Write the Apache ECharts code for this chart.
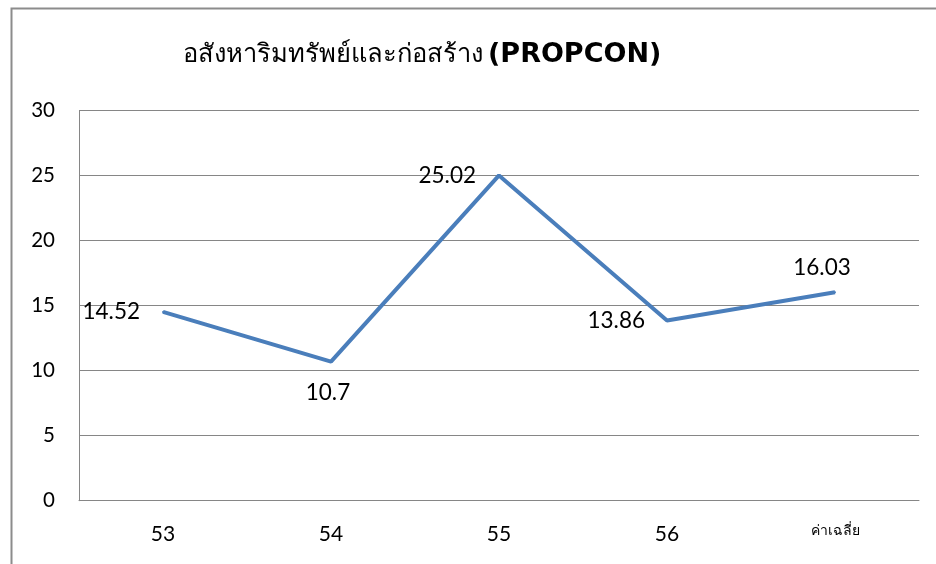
<!DOCTYPE html>
<html><head><meta charset="utf-8">
<script src="https://cdn.jsdelivr.net/npm/echarts@6/dist/echarts.min.js"></script>
<style>html,body{margin:0;padding:0;background:#fff}#c{width:936px;height:564px}</style>
</head><body><div id="c"></div>
<script>
const categories = ['53', '54', '55', '56', 'ค่าเฉลี่ย'];
const values = [14.52, 10.7, 25.02, 13.86, 16.03];
const yTicks = [0, 5, 10, 15, 20, 25, 30];
const titleThai = 'อสังหาริมทรัพย์และก่อสร้าง';
const titleCode = '(PROPCON)';

const labelStyle = [
  {position: 'left', distance: 22},
  {position: 'bottom', distance: 19, offset: [-3, 0]},
  {position: 'left', distance: 22},
  {position: 'left', distance: 21},
  {position: 'top', distance: 12, offset: [-13, 0]}
];

const chart = echarts.init(document.getElementById('c'), null, {renderer: 'canvas'});
const font = 'Lato, "Noto Sans", sans-serif';
chart.setOption({
  animation: false,
  backgroundColor: '#fff',
  graphic: [{
    type: 'rect', shape: {x: 11.5, y: 8.5, width: 940, height: 570},
    style: {fill: 'none', stroke: '#8c8c8c', lineWidth: 2}, silent: true
  }],
  title: {
    left: 178, top: 36,
    text: '{a|' + titleThai + '} {b|' + titleCode + '}',
    textStyle: {
      rich: {
        a: {fontSize: 25.5, fontWeight: 'normal', color: '#000', fontFamily: '"Noto Sans", sans-serif'},
        b: {fontSize: 27, fontWeight: 'bold', color: '#000', fontFamily: '"DejaVu Sans", sans-serif'}
      }
    }
  },
  grid: {left: 79, right: 17, top: 110.7, bottom: 63.3, containLabel: false},
  xAxis: {
    type: 'category', data: categories, boundaryGap: true,
    axisLine: {lineStyle: {color: '#868686', width: 1}},
    axisTick: {show: false},
    axisLabel: {
      color: '#000', fontSize: 21, fontFamily: font, margin: 23,
      formatter: function (v) { return v === 'ค่าเฉลี่ย' ? '{s|' + v + '}' : v; },
      rich: {s: {fontSize: 14, color: '#000', fontFamily: font}}
    }
  },
  yAxis: {
    type: 'value', min: yTicks[0], max: yTicks[yTicks.length - 1], interval: 5,
    axisLine: {show: true, lineStyle: {color: '#868686', width: 1}},
    axisTick: {show: false},
    axisLabel: {color: '#000', fontSize: 20.5, fontFamily: font, margin: 24},
    splitLine: {lineStyle: {color: '#868686', width: 1}}
  },
  series: [{
    type: 'line',
    data: values.map((v, i) => ({
      value: v,
      label: Object.assign({show: true, color: '#000', fontSize: 22.5, fontFamily: font}, labelStyle[i])
    })),
    label: {show: true},
    symbol: 'circle',
    symbolSize: 2,
    showSymbol: true,
    lineStyle: {color: '#4a7ebb', width: 4},
    itemStyle: {color: '#4a7ebb'}
  }]
});
</script></body></html>
